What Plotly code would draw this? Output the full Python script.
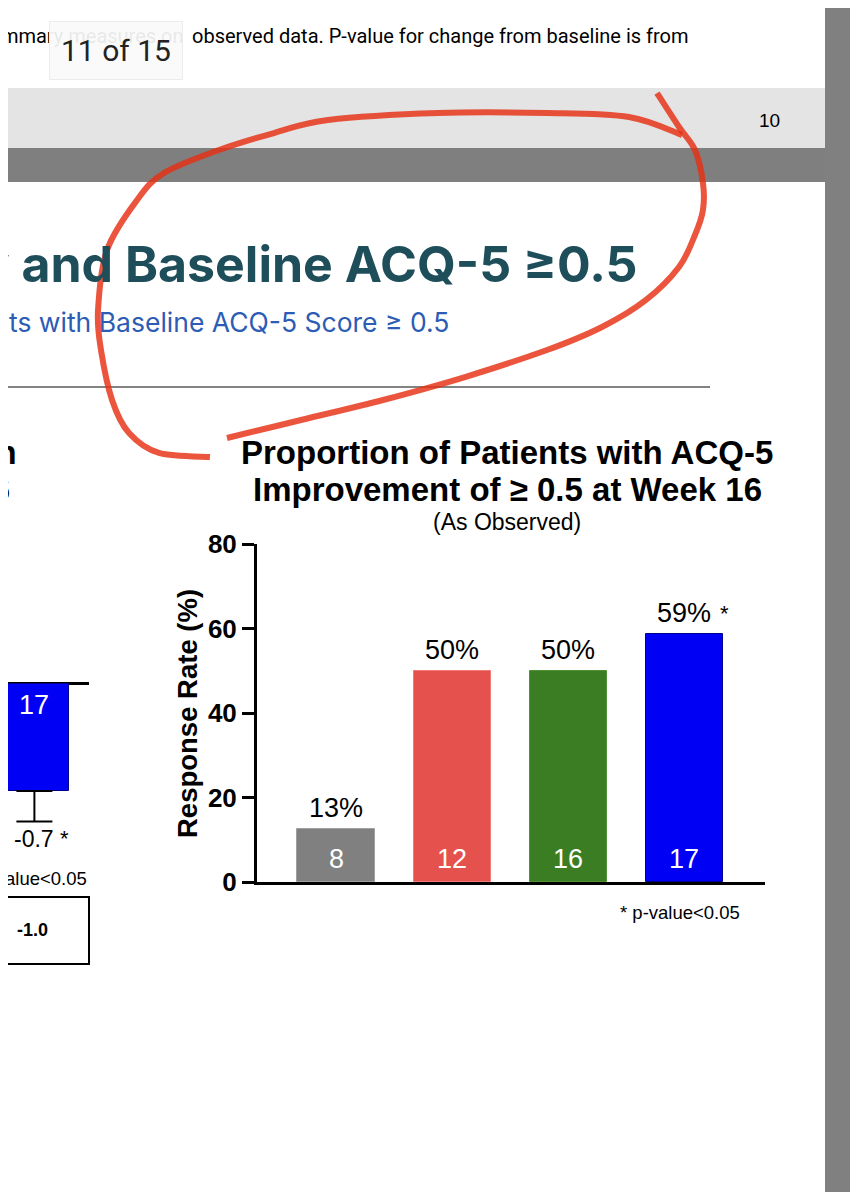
import plotly.graph_objects as go

# --- data ---
arms = ["Placebo", "Arm 2", "Arm 3", "Arm 4"]
rates = [12.5, 50.0, 50.0, 58.8]          # response rate (%)
pct_labels = ["13%", "50%", "50%", "59%"]
n_per_arm = [8, 12, 16, 17]
significant = [False, False, False, True]
bar_colors = ["#808080", "#e5514c", "#3a7d23", "#0000f5"]
edge_colors = ["#a0a0a0", "#ef7a76", "#4f9236", "#00008c"]
y_ticks = [0, 20, 40, 60, 80]

# left (cut off) panel: mean change from baseline
left_arm = ["Arm 4"]
left_change = [-0.7]
left_err = [0.2]
left_n = [17]

# the page body has an 8px margin, so the figure is a bit smaller and
# positions below are given in window pixels and shifted by that margin
W, H = 850, 1184
OX, OY = 8, 8


def px(x):
    return (x - OX) / W


def py(y):
    return 1 - (y - OY) / H


def smooth_path(pts):
    # catmull-rom through the points, written as svg cubic curves (paper coords)
    d = "M%.4f,%.4f" % (px(pts[0][0]), py(pts[0][1]))
    for i in range(len(pts) - 1):
        p0 = pts[i - 1] if i > 0 else pts[i]
        p1 = pts[i]
        p2 = pts[i + 1]
        p3 = pts[i + 2] if i + 2 < len(pts) else pts[i + 1]
        c1 = (p1[0] + (p2[0] - p0[0]) / 6, p1[1] + (p2[1] - p0[1]) / 6)
        c2 = (p2[0] - (p3[0] - p1[0]) / 6, p2[1] - (p3[1] - p1[1]) / 6)
        d += " C%.4f,%.4f %.4f,%.4f %.4f,%.4f" % (
            px(c1[0]), py(c1[1]), px(c2[0]), py(c2[1]), px(p2[0]), py(p2[1]))
    return d


fig = go.Figure()

fig.add_trace(go.Bar(
    x=arms, y=rates, width=0.664,
    marker=dict(color=bar_colors, line=dict(color=edge_colors, width=1)),
    xaxis="x", yaxis="y", showlegend=False,
    hovertemplate="%{x}: %{y}%<extra></extra>",
))

fig.add_trace(go.Bar(
    x=left_arm, y=left_change, width=0.66,
    marker=dict(color="#0000f5", line=dict(color="#00008c", width=1)),
    error_y=dict(type="data", symmetric=False, array=[0], arrayminus=left_err,
                 color="black", thickness=2, width=18),
    xaxis="x2", yaxis="y2", showlegend=False,
))

# labels above and inside the bars
for arm, r, lab, n, sig in zip(arms, rates, pct_labels, n_per_arm, significant):
    fig.add_annotation(x=arm, y=r, xref="x", yref="y", text=lab, showarrow=False,
                       yanchor="bottom", yshift=4, font=dict(size=27, color="black"))
    fig.add_annotation(x=arm, y=0, xref="x", yref="y", text=str(n), showarrow=False,
                       yanchor="bottom", yshift=6, font=dict(size=27, color="white"))
    if sig:
        fig.add_annotation(x=arm, y=r, xref="x", yref="y", text="*", showarrow=False,
                           yanchor="bottom", yshift=6, xshift=40,
                           font=dict(size=22, color="black"))

for arm, v, e, n in zip(left_arm, left_change, left_err, left_n):
    fig.add_annotation(x=arm, y=0, xref="x2", yref="y2", text=str(n), showarrow=False,
                       yanchor="top", yshift=-4, font=dict(size=27, color="white"))
    fig.add_annotation(x=arm, y=v - e, xref="x2", yref="y2", text="%.1f" % v,
                       showarrow=False, yanchor="top", yshift=-2,
                       font=dict(size=23, color="black"))
    fig.add_annotation(x=arm, y=v - e, xref="x2", yref="y2", text="*",
                       showarrow=False, yanchor="top", yshift=-2, xshift=30,
                       font=dict(size=22, color="black"))

# page furniture
page_shapes = [
    dict(type="rect", x0=px(0), x1=px(825), y0=py(88), y1=py(148),
         fillcolor="#e4e4e4", line_width=0, layer="below"),
    dict(type="rect", x0=px(0), x1=px(825), y0=py(148), y1=py(182),
         fillcolor="#7f7f7f", line_width=0, layer="below"),
    dict(type="rect", x0=px(825), x1=px(858), y0=py(0), y1=py(1200),
         fillcolor="#808080", line_width=0, layer="below"),
    dict(type="line", x0=px(0), x1=px(710), y0=py(387), y1=py(387),
         line=dict(color="#5a5a5a", width=1.5)),
    dict(type="rect", x0=px(-20), x1=px(89), y0=py(897), y1=py(964),
         line=dict(color="black", width=2), fillcolor="rgba(0,0,0,0)"),
]
for s in page_shapes:
    fig.add_shape(xref="paper", yref="paper", **s)

# red hand-drawn loop
red = "rgba(230,48,20,0.82)"
loop_a = [(210, 457), (159, 453), (129, 433), (112, 400), (101, 350), (98, 310),
          (107, 250), (137, 200), (164, 173), (219, 150), (274, 133), (328, 120),
          (438, 113), (547, 113), (629, 117), (682, 135)]
loop_b = [(657, 93), (679, 127), (695, 150), (703, 183), (703, 210), (695, 235),
          (679, 267), (646, 300), (602, 327), (547, 350), (465, 377), (383, 400),
          (301, 420), (227, 438)]
for pts in (loop_a, loop_b):
    fig.add_shape(type="path", xref="paper", yref="paper", path=smooth_path(pts),
                  line=dict(color=red, width=6), layer="above")

page_text = [
    dict(x=186, y=36, text="Summary measures on", xanchor="right",
         font=dict(family="Roboto", size=20, color="black")),
    dict(x=190, y=36, text="observed data. P-value for change from baseline is from",
         xanchor="left", font=dict(family="Roboto", size=20, color="black")),
    dict(x=116, y=50, text="11 of 15", xanchor="center",
         font=dict(family="Roboto", size=30, color="#222222"),
         bgcolor="rgba(250,250,250,0.93)", bordercolor="#ececec", borderpad=11),
    dict(x=769, y=120, text="10", xanchor="center",
         font=dict(size=19, color="black")),
    dict(x=640, y=264, text="Efficacy and Baseline ACQ-5 ≥0.5", xanchor="right",
         font=dict(family="Inter", size=50, weight="bold", color="#1f4e5b")),
    dict(x=451, y=322, text="Patients with Baseline ACQ-5 Score ≥ 0.5", xanchor="right",
         font=dict(family="Inter", size=26.5, color="#2c5cb4")),
    dict(x=507, y=453, text="Proportion of Patients with ACQ-5", xanchor="center",
         font=dict(size=33, weight="bold", color="black")),
    dict(x=507, y=490, text="Improvement of ≥ 0.5 at Week 16", xanchor="center",
         font=dict(size=33, weight="bold", color="black")),
    dict(x=507, y=522, text="(As Observed)", xanchor="center",
         font=dict(size=23, color="black")),
    dict(x=19, y=453, text="Change from", xanchor="right",
         font=dict(size=33, weight="bold", color="black")),
    dict(x=12, y=490, text="at Week 16", xanchor="right",
         font=dict(size=33, weight="bold", color="black")),
    dict(x=89, y=878, text="* p-value<0.05", xanchor="right",
         font=dict(size=18.5, color="black")),
    dict(x=32, y=930, text="-1.0", xanchor="center",
         font=dict(size=18, weight="bold", color="black")),
    dict(x=742, y=912, text="* p-value<0.05", xanchor="right",
         font=dict(size=18.5, color="black")),
    dict(x=187, y=714, text="Response Rate (%)", xanchor="center", textangle=-90,
         font=dict(size=27.5, weight="bold", color="black")),
]
for a in page_text:
    x = a.pop("x")
    y = a.pop("y")
    fig.add_annotation(x=px(x), y=py(y), xref="paper", yref="paper",
                       yanchor="middle", showarrow=False, **a)

fig.update_layout(
    width=W, height=H,
    margin=dict(l=0, r=0, t=0, b=0, pad=0),
    paper_bgcolor="white",
    plot_bgcolor="rgba(0,0,0,0)",
    font=dict(family="Liberation Sans, Arial, sans-serif", color="black"),
    bargap=0,
    xaxis=dict(domain=[px(257), px(765)], range=[-0.681, 3.698], anchor="y",
               showticklabels=False, ticks="", showgrid=False, zeroline=False,
               showline=True, linecolor="black", linewidth=3, automargin=False),
    yaxis=dict(domain=[py(882), py(544)], range=[0, 80], anchor="x",
               tickvals=y_ticks, ticks="outside", ticklen=12, tickwidth=3,
               tickcolor="black", showgrid=False, zeroline=False,
               showline=True, linecolor="black", linewidth=3, automargin=False,
               tickfont=dict(size=26, weight="bold", color="black")),
    xaxis2=dict(domain=[0, px(89)], range=[-0.25, 0.517], anchor="y2",
                visible=False, automargin=False),
    yaxis2=dict(domain=[py(900), py(650)], range=[-1.413, 0.222], anchor="x2",
                showticklabels=False, ticks="", showgrid=False, showline=False,
                zeroline=True, zerolinecolor="black", zerolinewidth=3,
                automargin=False),
)

fig.write_html("out.html")
